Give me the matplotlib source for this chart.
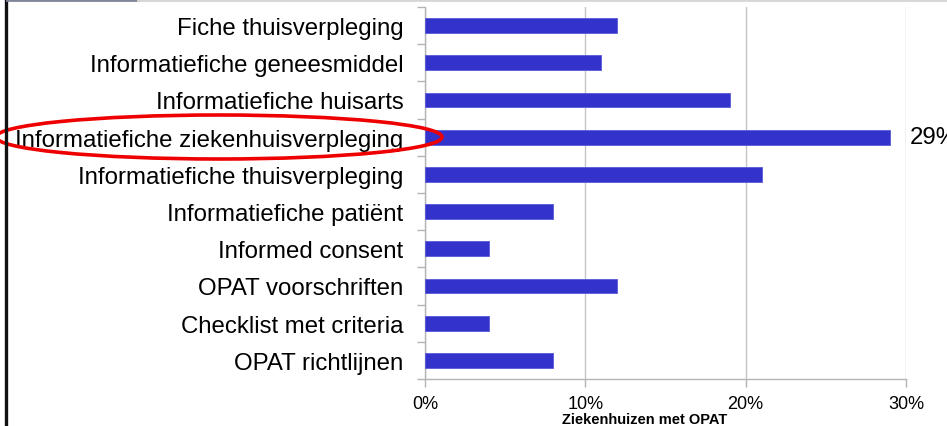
import matplotlib
matplotlib.use("Agg")
import matplotlib.pyplot as plt
from matplotlib.patches import Ellipse
from matplotlib.lines import Line2D
from matplotlib.ticker import FixedLocator, FuncFormatter

categories = [
    "Fiche thuisverpleging",
    "Informatiefiche geneesmiddel",
    "Informatiefiche huisarts",
    "Informatiefiche ziekenhuisverpleging",
    "Informatiefiche thuisverpleging",
    "Informatiefiche patiënt",
    "Informed consent",
    "OPAT voorschriften",
    "Checklist met criteria",
    "OPAT richtlijnen",
]
values = [12, 11, 19, 29, 21, 8, 4, 12, 4, 8]
x_ticks = [0, 10, 20, 30]
x_label = "Ziekenhuizen met OPAT"
highlight_label = "29%"

plt.rcParams['font.family'] = ['Liberation Sans', 'DejaVu Sans']

W, H = 947, 427
fig = plt.figure(figsize=(W / 100, H / 100), dpi=100)
ax = fig.add_axes([425 / W, 1 - 380 / H, (906 - 425) / W, (380 - 8) / H])

ypos = list(range(len(categories)))
ax.barh(ypos, values, height=0.4, color='#3333CC', edgecolor='#5a5ad8', linewidth=0.6, zorder=3)

ax.set_xlim(0, 30)
ax.set_ylim(len(categories) - 0.5, -0.5)

grey = '#b4b4b4'
ax.xaxis.set_major_locator(FixedLocator(x_ticks))
ax.xaxis.set_major_formatter(FuncFormatter(lambda v, p: f"{int(v)}%"))
ax.grid(axis='x', color='#c4c4c4', linewidth=1.0, zorder=0)
ax.tick_params(axis='x', direction='out', length=5.5, width=1, color=grey,
               labelsize=13, pad=6, labelcolor='black')

ax.set_yticks(ypos)
ax.set_yticklabels(categories)
ax.set_yticks([i - 0.5 for i in range(len(categories) + 1)], minor=True)
ax.tick_params(axis='y', which='major', length=0, labelsize=17.3, pad=15.5)
ax.tick_params(axis='y', which='minor', direction='out', length=5.5, width=1, color=grey)

for s in ['top', 'right']:
    ax.spines[s].set_visible(False)
for s in ['left', 'bottom']:
    ax.spines[s].set_color(grey)
    ax.spines[s].set_linewidth(1)

ax.set_xlabel(x_label, fontsize=10.5, fontweight='bold', va='center')
ax.xaxis.set_label_coords((645 - 425) / 481, (380 - 420) / 372)

ax.annotate(highlight_label, xy=(values[3], 3), xytext=(14.5, 0), textcoords='offset points',
            va='center', ha='left', fontsize=17.3, annotation_clip=False, clip_on=False)

# red highlight ellipse (figure pixel coordinates)
ell = Ellipse((219 / W, 1 - 138 / H), width=446 / W, height=44 / H,
              transform=fig.transFigure, fill=False, edgecolor='#ee0000', linewidth=2.6)
fig.patches.append(ell)

# slide frame decorations
fig.add_artist(Line2D([6 / W, 6 / W], [0, 1], transform=fig.transFigure, color='#111111', linewidth=2.4))
fig.add_artist(Line2D([7 / W, 138 / W], [1 - 1 / H, 1 - 1 / H], transform=fig.transFigure, color='#7f8699', linewidth=2))
fig.add_artist(Line2D([138 / W, 1], [1 - 1 / H, 1 - 1 / H], transform=fig.transFigure, color='#d6d6d6', linewidth=2))

fig.savefig("out.png", dpi=100)
